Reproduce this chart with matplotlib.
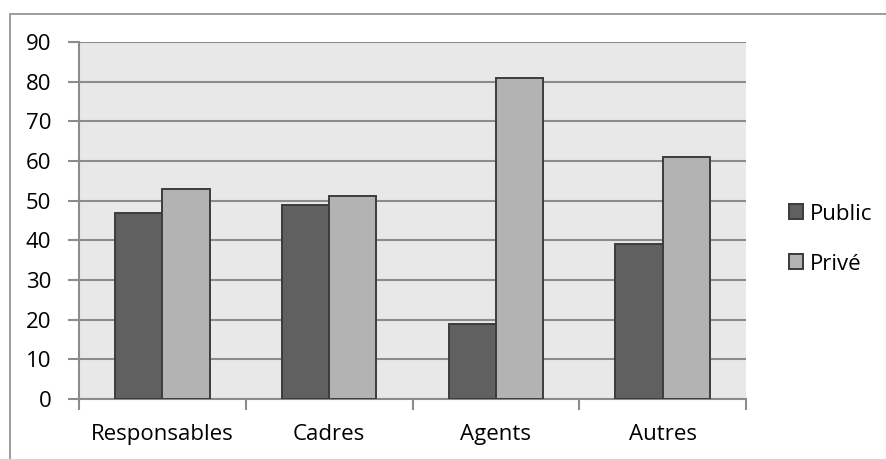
import numpy as np
import matplotlib
matplotlib.use('Agg')
import matplotlib.pyplot as plt
from matplotlib.patches import Rectangle

categories = ['Responsables', 'Cadres', 'Agents', 'Autres']
public = [47, 48.8, 19, 39]
prive = [53, 51.2, 81, 61]
series_names = ['Public', 'Privé']
yticks = [0, 10, 20, 30, 40, 50, 60, 70, 80, 90]

plt.rcParams['font.family'] = ['Open Sans', 'DejaVu Sans']

fig = plt.figure(figsize=(8.86, 4.59), dpi=100)
ax = fig.add_axes([79 / 886, 60 / 459, 667 / 886, 357 / 459])

# outer chart border (only top/left visible in the reference)
fig.patches.append(Rectangle((10 / 886, -0.1), 1.2, (459 - 14) / 459 + 0.1,
                             transform=fig.transFigure, fill=False,
                             edgecolor='#8c8c8c', linewidth=1.2))

ax.set_facecolor('#e8e8e8')
x = np.arange(len(categories))
w = 0.283
ax.bar(x - w / 2, public, w, color='#606060', edgecolor='#3c3c3c',
       linewidth=1.4, label=series_names[0], zorder=3)
ax.bar(x + w / 2, prive, w, color='#b3b3b3', edgecolor='#3c3c3c',
       linewidth=1.4, label=series_names[1], zorder=3)

ax.set_xlim(-0.5, len(categories) - 0.5)
ax.set_ylim(0, 90)
ax.set_yticks(yticks)
ax.set_yticklabels([str(v) for v in yticks], fontsize=16)
ax.yaxis.grid(True, color='#8c8c8c', linewidth=1.5, zorder=1)
ax.set_axisbelow(True)

ax.set_xticks(x)
ax.set_xticklabels(categories, fontsize=16)
ax.set_xticks(np.arange(-0.5, len(categories)), minor=True)
ax.tick_params(axis='x', which='major', length=0, pad=18)
ax.tick_params(axis='x', which='minor', length=8, color='#8c8c8c', width=1.5)
ax.tick_params(axis='y', length=8, color='#8c8c8c', width=1.5, pad=12)

for s in ['top', 'right']:
    ax.spines[s].set_visible(False)
for s in ['left', 'bottom']:
    ax.spines[s].set_color('#8c8c8c')
    ax.spines[s].set_linewidth(1.5)

ax.legend(loc='center left', bbox_to_anchor=(1.0645, 0.448), frameon=False,
          fontsize=16, handlelength=0.65, handleheight=0.65,
          handletextpad=0.3, labelspacing=1.3, borderpad=0, borderaxespad=0)

fig.savefig('out.png', dpi=100)
